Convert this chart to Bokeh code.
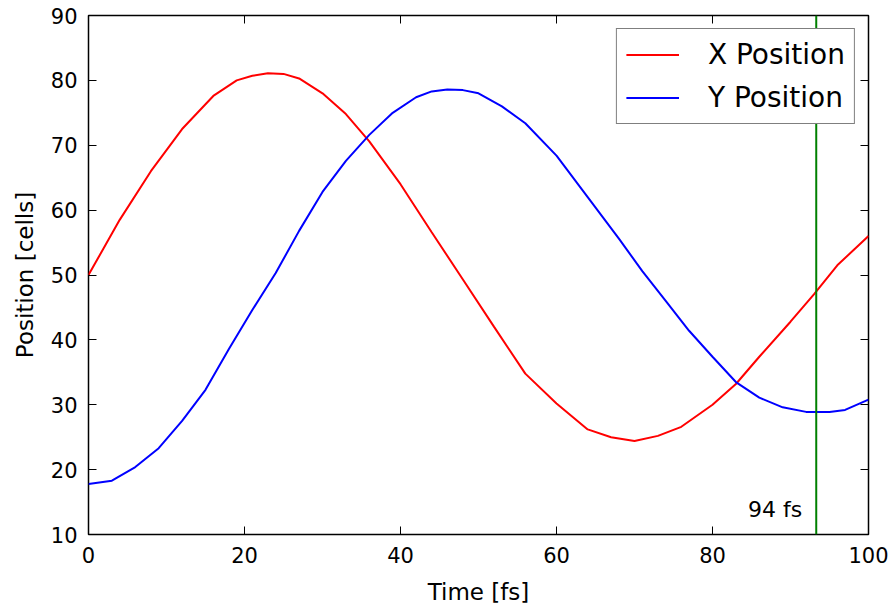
from bokeh.plotting import figure
from bokeh.models import LinearAxis, Span, FixedTicker, CustomJSTickFormatter
from bokeh.core.properties import value
from bokeh.embed import file_html
from bokeh.resources import INLINE

# ---- data ----
x_time = [0, 4, 8, 12, 16, 19, 21, 23, 25, 27, 30, 33, 36, 40, 44, 48, 52,
          56, 60, 64, 67, 70, 73, 76, 80, 83, 86, 90, 93, 96, 100]
x_pos = [50.0, 58.5, 66.0, 72.5, 77.6, 80.0, 80.7, 81.1, 81.0, 80.3, 78.0,
         74.8, 70.6, 64.0, 56.6, 49.3, 42.0, 34.8, 30.2, 26.2, 25.0, 24.4,
         25.2, 26.6, 30.0, 33.2, 37.4, 42.8, 47.0, 51.5, 56.0]

y_time = [0, 3, 6, 9, 12, 15, 18, 21, 24, 27, 30, 33, 36, 39, 42, 44, 46,
          48, 50, 53, 56, 60, 64, 68, 71, 74, 77, 80, 83, 86, 89, 92, 95,
          97, 100]
y_pos = [17.8, 18.3, 20.4, 23.3, 27.5, 32.3, 38.6, 44.6, 50.3, 56.8, 62.8,
         67.6, 71.6, 75.0, 77.4, 78.3, 78.6, 78.5, 78.0, 76.0, 73.4, 68.4,
         62.0, 55.6, 50.6, 46.0, 41.4, 37.4, 33.5, 31.1, 29.6, 28.9, 28.9,
         29.2, 30.8]

marker_time = 93.3
marker_label = "94 fs"
label_y = 13.9

x_ticks = [0, 20, 40, 60, 80, 100]
y_ticks = [10, 20, 30, 40, 50, 60, 70, 80, 90]

FONT = "DejaVu Sans"

p = figure(width=888, height=607,
           x_range=(0, 100), y_range=(10, 90),
           output_backend="svg", toolbar_location=None,
           min_border_left=88, min_border_top=15,
           min_border_right=20, min_border_bottom=72)
p.background_fill_color = "white"
p.border_fill_color = "white"
p.outline_line_color = "black"
p.outline_line_width = 1.5
p.xgrid.visible = False
p.ygrid.visible = False

p.line(x_time, x_pos, line_color="#ff0000", line_width=2, legend_label="X Position")
p.line(y_time, y_pos, line_color="#0000ff", line_width=2, legend_label="Y Position")

p.add_layout(Span(location=marker_time, dimension="height",
                  line_color="#008000", line_width=2))
p.text(x=[marker_time], y=[label_y], text=[marker_label], x_offset=-14,
       text_align="right", text_baseline="alphabetic",
       text_font=value(FONT), text_font_size="22px", text_color="black")

def style_axis(ax, labels=True):
    ax.axis_line_color = None
    ax.major_tick_in = 8
    ax.major_tick_out = 0
    ax.minor_tick_in = 0
    ax.minor_tick_out = 0
    ax.major_tick_line_color = "black"
    ax.major_tick_line_width = 1
    if labels:
        ax.major_label_text_font = FONT
        ax.major_label_text_font_size = "21px"
        ax.major_label_text_color = "black"
        ax.axis_label_text_font = FONT
        ax.axis_label_text_font_size = "23px"
        ax.axis_label_text_font_style = "normal"
        ax.axis_label_text_color = "black"
    else:
        ax.formatter = CustomJSTickFormatter(code="return '';")
        ax.major_label_text_font_size = "1px"
        ax.major_label_standoff = 0

xa = p.xaxis[0]
xa.ticker = FixedTicker(ticks=x_ticks)
xa.axis_label = "Time [fs]"
style_axis(xa)
xa.major_label_standoff = 12
xa.axis_label_standoff = 13

ya = p.yaxis[0]
ya.ticker = FixedTicker(ticks=y_ticks)
ya.axis_label = "Position [cells]"
style_axis(ya)
ya.major_label_standoff = 11
ya.axis_label_standoff = 10

top = LinearAxis(ticker=FixedTicker(ticks=x_ticks))
style_axis(top, labels=False)
p.add_layout(top, "above")
right = LinearAxis(ticker=FixedTicker(ticks=y_ticks))
style_axis(right, labels=False)
p.add_layout(right, "right")

lg = p.legend[0]
lg.location = "top_right"
lg.margin = 13
lg.padding = 9
lg.glyph_width = 53
lg.glyph_height = 25
lg.label_height = 25
lg.spacing = 10
lg.label_standoff = 29
lg.label_text_font = FONT
lg.label_text_font_size = "28px"
lg.label_text_color = "black"
lg.border_line_color = "black"
lg.border_line_width = 1.5
lg.background_fill_color = "white"
lg.background_fill_alpha = 1.0

open("out.html", "w").write(file_html(p, INLINE))
